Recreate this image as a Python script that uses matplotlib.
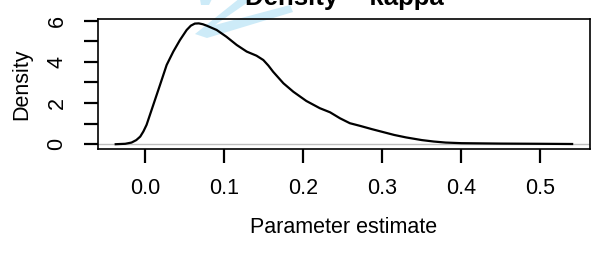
import matplotlib.pyplot as plt
from matplotlib.patches import Polygon

plt.rcParams['font.family'] = ['Liberation Sans', 'DejaVu Sans']

# density estimate
kappa = [-0.037, -0.025, -0.017, -0.011, -0.006, -0.002, 0.002, 0.0105, 0.019,
         0.0274, 0.0358, 0.0442, 0.0527, 0.058, 0.063, 0.068, 0.073, 0.078, 0.0906,
         0.103, 0.116, 0.1286, 0.141, 0.1496, 0.156, 0.162, 0.175, 0.1875, 0.204,
         0.221, 0.234, 0.2465, 0.259, 0.272, 0.287, 0.300, 0.315, 0.330, 0.350,
         0.365, 0.380, 0.400, 0.450, 0.500, 0.540]
dens = [0.0, 0.02, 0.08, 0.2, 0.37, 0.62, 0.94, 1.91, 2.88,
        3.85, 4.5, 5.06, 5.55, 5.76, 5.86, 5.87, 5.83, 5.76, 5.55,
        5.22, 4.82, 4.5, 4.3, 4.09, 3.82, 3.52, 2.96, 2.55, 2.1,
        1.75, 1.55, 1.26, 1.02, 0.89, 0.73, 0.60, 0.45, 0.33, 0.20,
        0.13, 0.08, 0.05, 0.03, 0.02, 0.01]
xticks = [0.0, 0.1, 0.2, 0.3, 0.4, 0.5]
yticks = [0, 1, 2, 3, 4, 5, 6]
ylabels = ['0', '', '2', '', '4', '', '6']

W, H = 599, 270
fig = plt.figure(figsize=(W / 100, H / 100), dpi=100)
ax = fig.add_axes([98 / W, 1 - 149 / H, 492 / W, 130 / H])
ax.set_zorder(2)
ax.patch.set_alpha(0)

ax.axhline(0, color='#bebebe', lw=1.0)
ax.plot(kappa, dens, color='black', lw=1.6)

ax.set_xlim(-0.0594, 0.5626)
ax.set_ylim(-0.233, 6.083)
ax.set_xticks(xticks)
ax.set_xticklabels([f'{t:.1f}' for t in xticks])
ax.set_yticks(yticks)
ax.set_yticklabels(ylabels, rotation=90, va='center')
ax.tick_params(length=10, width=1.6, labelsize=15.5, color='black')
ax.tick_params(axis='x', pad=11)
ax.tick_params(axis='y', pad=12)
for s in ax.spines.values():
    s.set_linewidth(1.2)

ax.set_xlabel('Parameter estimate', fontsize=15.5)
ax.set_ylabel('Density', fontsize=15.5)
ax.xaxis.set_label_coords(0.5, -(233 - 149) / 130, transform=ax.transAxes)
ax.xaxis.label.set_va('baseline')
ax.yaxis.label.set_va('center')
ax.yaxis.set_label_coords(-(98 - 22) / 492, 0.5, transform=ax.transAxes)

fig.text(344 / W, 1 - 5 / H, 'Density -- kappa', ha='center', va='baseline',
         fontsize=18.5, fontweight='bold')

# light blue watermark fragment behind the title and curve
def px(pts):
    return [(x / W, 1 - y / H) for x, y in pts]

blue = '#cdebf8'
arm = px([(240, -2), (254, -2), (215, 25), (290, 5), (293, 12), (207, 38), (195, 34)])
fig.patches.append(Polygon(arm, closed=True, transform=fig.transFigure,
                           facecolor=blue, edgecolor='none', zorder=0))
fig.patches.append(Polygon(px([(200, -1), (212, -1), (209, 5), (201, 5)]), closed=True,
                           transform=fig.transFigure, facecolor=blue,
                           edgecolor='none', zorder=0))

fig.savefig('out.png', dpi=100)
